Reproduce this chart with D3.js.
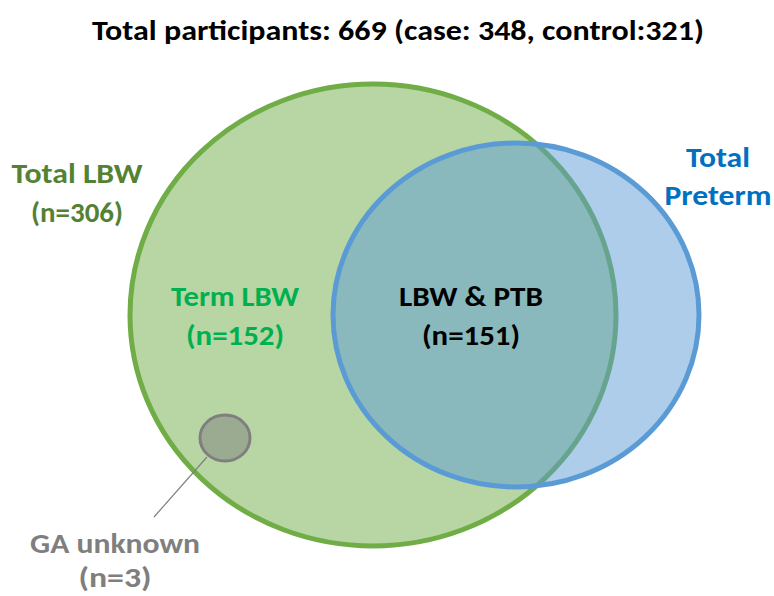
<!DOCTYPE html>
<html>
<head>
<meta charset="utf-8">
<script src="https://cdn.jsdelivr.net/npm/d3@7"></script>
<style>
  html, body { margin: 0; padding: 0; background: #fff; }
  text { font-family: Carlito, Calibri, Lato, "Open Sans", sans-serif; font-weight: bold; }
</style>
</head>
<body>
<div id="chart"></div>
<script>
// data
const title = 'Total participants: 669 (case: 348, control:321)';
const setNames = ['Total LBW', 'Total Preterm'];
const setCounts = [306, null];
const regionNames = ['Term LBW', 'LBW & PTB', 'GA unknown'];
const regionCounts = [152, 151, 3];

const width = 774, height = 596;

// layout (pixels)
const ellipses = [
  { cx: 373, cy: 315, rx: 243, ry: 231, fill: '#70AD47', stroke: '#70AD47', sw: 5 },
  { cx: 516, cy: 315, rx: 183, ry: 172, fill: '#5B9BD5', stroke: '#5B9BD5', sw: 5 }
];
const unknownCircle = { cx: 225, cy: 438, rx: 25, ry: 23 };
const leader = [[207, 457], [154, 517]];

const svg = d3.select('#chart')
  .append('svg')
  .attr('width', width)
  .attr('height', height);

// title
svg.append('text')
  .attr('x', 398)
  .attr('y', 40)
  .attr('text-anchor', 'middle')
  .attr('font-size', 28)
  .attr('fill', '#000')
  .attr('textLength', 612)
  .attr('lengthAdjust', 'spacingAndGlyphs')
  .text(title);

// set ellipses
svg.selectAll('ellipse.set')
  .data(ellipses)
  .enter()
  .append('ellipse')
  .attr('class', 'set')
  .attr('cx', d => d.cx)
  .attr('cy', d => d.cy)
  .attr('rx', d => d.rx)
  .attr('ry', d => d.ry)
  .attr('fill', d => d.fill)
  .attr('fill-opacity', 0.5)
  .attr('stroke', d => d.stroke)
  .attr('stroke-width', d => d.sw);

// GA unknown circle + leader line
svg.append('ellipse')
  .attr('cx', unknownCircle.cx)
  .attr('cy', unknownCircle.cy)
  .attr('rx', unknownCircle.rx)
  .attr('ry', unknownCircle.ry)
  .attr('fill', '#7F7F7F')
  .attr('fill-opacity', 0.5)
  .attr('stroke', '#7F7F7F')
  .attr('stroke-width', 3);

svg.append('path')
  .attr('d', d3.line()(leader))
  .attr('stroke', '#7F7F7F')
  .attr('stroke-width', 1.2)
  .attr('fill', 'none');

// labels: lines, centre x, baselines, colour, line widths
const labels = [
  { lines: [setNames[0], `(n=${setCounts[0]})`], x: 77, y: [183, 222], color: '#548235', w: [131, 92] },
  { lines: setNames[1].split(' '), x: 718, y: [167, 205], color: '#0070C0', w: [64, 107] },
  { lines: [regionNames[0], `(n=${regionCounts[0]})`], x: 235, y: [306, 345], color: '#00B050', w: [128, 98] },
  { lines: [regionNames[1], `(n=${regionCounts[1]})`], x: 471, y: [306, 345], color: '#000000', w: [144, 98] },
  { lines: [regionNames[2], `(n=${regionCounts[2]})`], x: 115, y: [553, 587], color: '#7F7F7F', w: [170, 73] }
];

labels.forEach(l => {
  l.lines.forEach((t, i) => {
    svg.append('text')
      .attr('x', l.x)
      .attr('y', l.y[i])
      .attr('text-anchor', 'middle')
      .attr('font-size', 29)
      .attr('fill', l.color)
      .attr('textLength', l.w[i])
      .attr('lengthAdjust', 'spacingAndGlyphs')
      .text(t);
  });
});
</script>
</body>
</html>
